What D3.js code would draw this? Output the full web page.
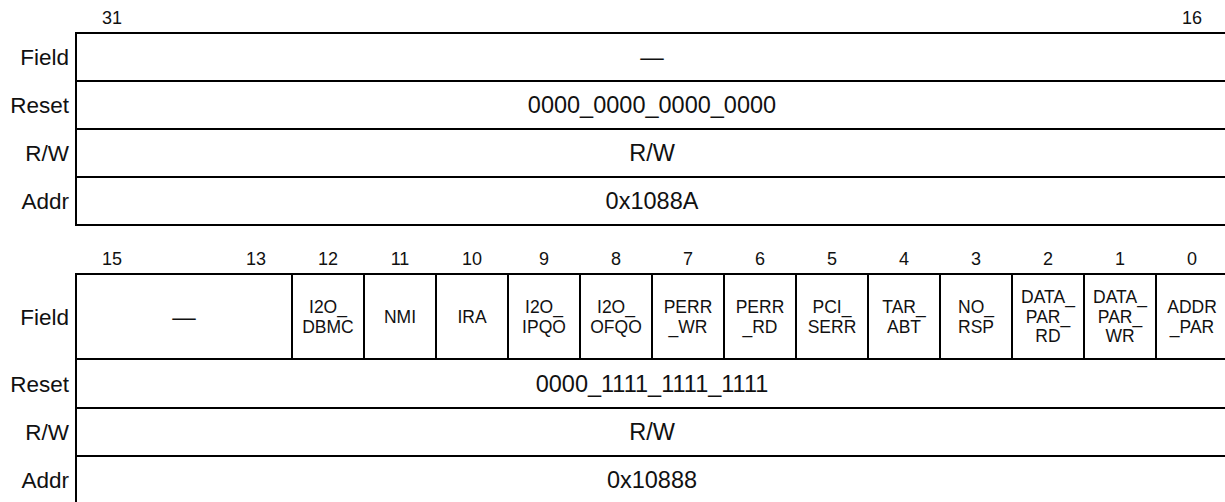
<!DOCTYPE html>
<html>
<head>
<meta charset="utf-8">
<script src="https://cdn.jsdelivr.net/npm/d3@7"></script>
<style>
  html, body { margin: 0; padding: 0; background: #fff; }
  svg { display: block; }
  text { font-family: "Liberation Sans", Arial, Helvetica, sans-serif; fill: #111; }
</style>
</head>
<body>
<svg id="chart" width="1225" height="502"></svg>
<script>
// ---------- data ----------
const rowLabels = ["Field", "Reset", "R/W", "Addr"];

// upper register half (bits 31..16)
const topBitTicks = [31, 16];
const topFieldNames = [["—"]];
const topFieldMsb = [31];
const topFieldLsb = [16];
const topValues = ["0000_0000_0000_0000", "R/W", "0x1088A"];

// lower register half (bits 15..0)
const bottomBitTicks = [15, 13, 12, 11, 10, 9, 8, 7, 6, 5, 4, 3, 2, 1, 0];
const bottomFieldNames = [
  ["—"], ["I2O_", "DBMC"], ["NMI"], ["IRA"], ["I2O_", "IPQO"], ["I2O_", "OFQO"],
  ["PERR", "_WR"], ["PERR", "_RD"], ["PCI_", "SERR"], ["TAR_", "ABT"], ["NO_", "RSP"],
  ["DATA_", "PAR_", "RD"], ["DATA_", "PAR_", "WR"], ["ADDR", "_PAR"]
];
const bottomFieldMsb = [15, 12, 11, 10, 9, 8, 7, 6, 5, 4, 3, 2, 1, 0];
const bottomFieldLsb = [13, 12, 11, 10, 9, 8, 7, 6, 5, 4, 3, 2, 1, 0];
const bottomValues = ["0000_1111_1111_1111", "R/W", "0x10888"];

// ---------- drawing ----------
const svg = d3.select("#chart");
const X0 = 76, X1 = 1228;

function drawRegister(cfg) {
  const g = svg.append("g");
  const x = d3.scaleLinear().domain([cfg.hiBit + 1, cfg.hiBit - 15]).range([X0, X1]);
  const rowTops = cfg.rowTops; // 5 boundaries
  const rowsMid = d3.range(4).map(i => (rowTops[i] + rowTops[i + 1]) / 2);

  // bit number ticks
  g.selectAll("text.bit").data(cfg.ticks).join("text")
    .attr("class", "bit")
    .attr("x", d => (x(d + 1) + x(d)) / 2)
    .attr("y", rowTops[0] - 9)
    .attr("text-anchor", "middle")
    .attr("font-size", 18)
    .text(d => d);

  // row labels
  g.selectAll("text.lab").data(rowLabels).join("text")
    .attr("class", "lab")
    .attr("x", 69)
    .attr("y", (d, i) => rowsMid[i])
    .attr("dy", "0.36em")
    .attr("text-anchor", "end")
    .attr("font-size", 22.5)
    .text(d => d);

  // horizontal lines
  g.selectAll("line.h").data(rowTops).join("line")
    .attr("class", "h")
    .attr("x1", X0 - 1).attr("x2", X1)
    .attr("y1", d => d).attr("y2", d => d)
    .attr("stroke", "#000").attr("stroke-width", 2);

  // left border
  g.append("line")
    .attr("x1", X0).attr("x2", X0)
    .attr("y1", rowTops[0]).attr("y2", rowTops[4])
    .attr("stroke", "#000").attr("stroke-width", 2);

  // field dividers (field row only)
  const fields = cfg.names.map((n, i) => ({ lines: n, msb: cfg.msb[i], lsb: cfg.lsb[i] }));
  g.selectAll("line.v").data(fields.slice(1)).join("line")
    .attr("class", "v")
    .attr("x1", d => x(d.msb + 1)).attr("x2", d => x(d.msb + 1))
    .attr("y1", rowTops[0]).attr("y2", rowTops[1])
    .attr("stroke", "#000").attr("stroke-width", 2);

  // field names
  const lineH = 19.5;
  const fg = g.selectAll("g.f").data(fields).join("g").attr("class", "f");
  fg.each(function (d) {
    const cx = (x(d.msb + 1) + x(d.lsb)) / 2;
    const fs = (d.msb - d.lsb >= 2) ? 23.5 : 17.5;
    const n = d.lines.length;
    d3.select(this).selectAll("text").data(d.lines).join("text")
      .attr("x", cx)
      .attr("y", (t, j) => rowsMid[0] + (j - (n - 1) / 2) * lineH)
      .attr("dy", "0.36em")
      .attr("text-anchor", "middle")
      .attr("font-size", fs)
      .text(t => t);
  });

  // value rows
  g.selectAll("text.val").data(cfg.values).join("text")
    .attr("class", "val")
    .attr("x", (x(cfg.hiBit + 1) + x(cfg.hiBit - 15)) / 2)
    .attr("y", (d, i) => rowsMid[i + 1])
    .attr("dy", "0.36em")
    .attr("text-anchor", "middle")
    .attr("font-size", 23.5)
    .text(d => d);
}

drawRegister({
  hiBit: 31, ticks: topBitTicks, names: topFieldNames, msb: topFieldMsb, lsb: topFieldLsb,
  values: topValues, rowTops: [33, 81, 129, 177, 225]
});
drawRegister({
  hiBit: 15, ticks: bottomBitTicks, names: bottomFieldNames, msb: bottomFieldMsb, lsb: bottomFieldLsb,
  values: bottomValues, rowTops: [274, 359, 408, 456, 504]
});
</script>
</body>
</html>
